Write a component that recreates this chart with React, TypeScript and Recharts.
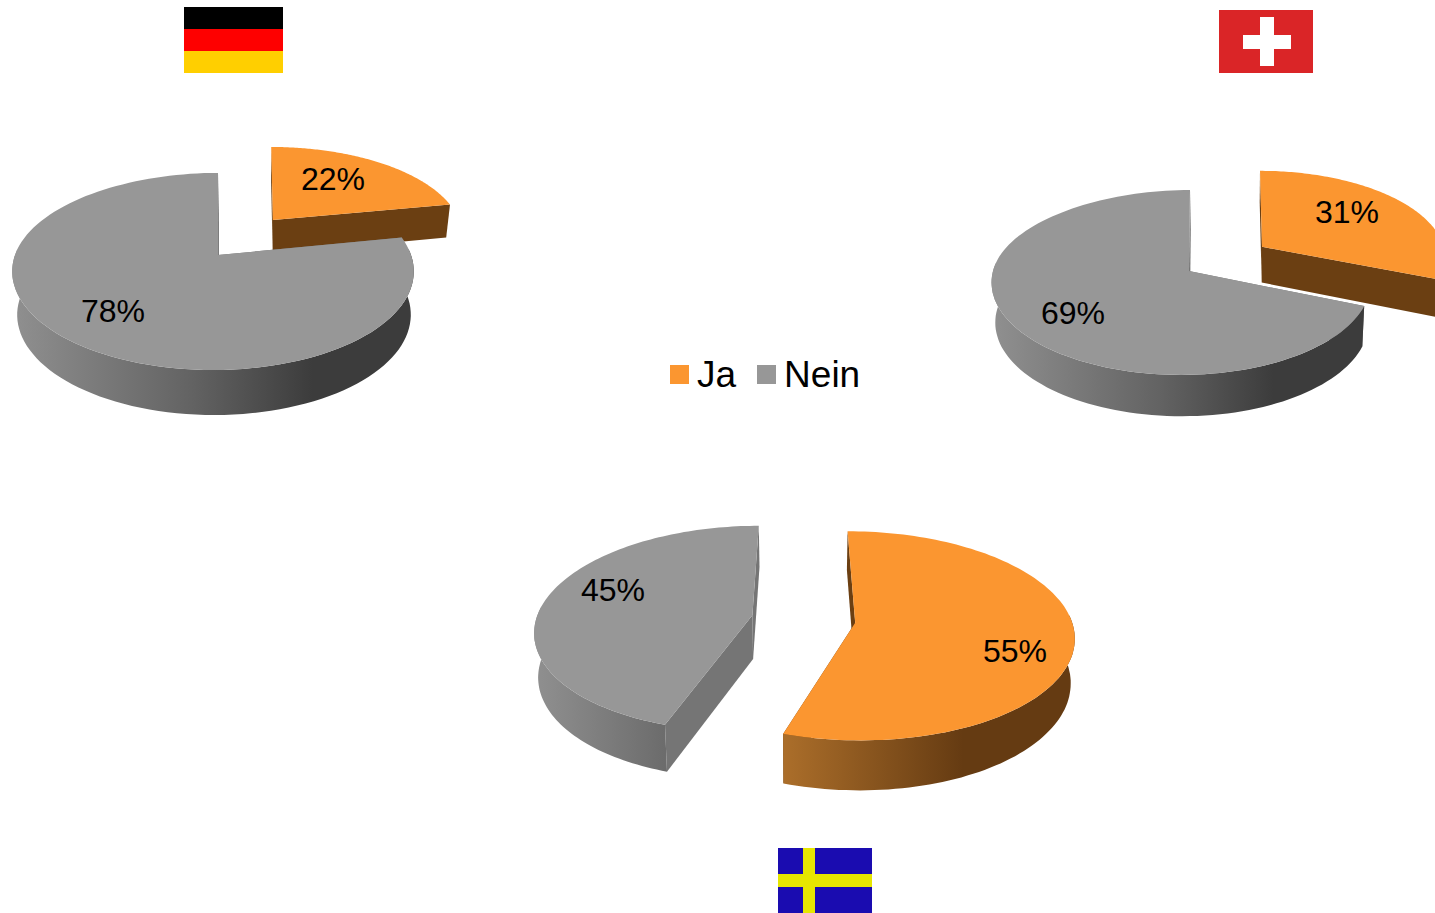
// App.tsx
//
// Three exploded "3D" pies (Ja / Nein) with flags. Recharts only does flat
// circles, so each sector goes through a custom shape that projects the
// library's angles onto a tilted plane with a bit of perspective.

import { PieChart, Pie, Legend } from "recharts";

const ANSWERS = ["Ja", "Nein"];
const GERMANY = [22, 78];
const SWITZERLAND = [31, 69];
const SWEDEN = [55, 45];

const toRows = (values: number[]) =>
  values.map((value, i) => ({ name: ANSWERS[i], value }));

const TOP_COLOR: Record<string, string> = { Ja: "#fb9630", Nein: "#979797" };
const CUT_COLOR: Record<string, string> = { Ja: "#6b3f12", Nein: "#757575" };
const WALL_STOPS: Record<string, [number, string][]> = {
  Ja: [[0, "#ab6e2a"], [0.62, "#653b12"], [1, "#653b12"]],
  Nein: [[0, "#8f8f8f"], [0.45, "#626262"], [0.75, "#3c3c3c"], [1, "#3c3c3c"]],
};

const FONT = "'Liberation Sans', Arial, sans-serif";

interface Geo {
  id: string;
  cx: number;
  cy: number;
  rx: number;
  ry: number;
  k: number; // perspective strength
  vp: number; // x the far side converges to
  skew: number; // extra x push towards the far side only
  u: number; // explode offset, in radii
  v: number;
  apexDx: number;
  depth: number;
  depthPow: number;
  wallVp: number;
  wallScale: number;
  wallFrom: number;
  wallTo: number;
  labelX: number;
  labelY: number;
}

const base = { k: 0.167, ry: 95.8, rx: 198, cy: 255, wallVp: 262, wallScale: 0.98, wallFrom: 16, wallTo: 412 };
const GERMANY_GEO: Record<string, Geo> = {
  Ja: { ...base, id: "de-ja", cx: 213, vp: 260, skew: 0, u: 0.307, v: 0.389, apexDx: 0, depth: 36, depthPow: 1, labelX: 333, labelY: 179 },
  Nein: { ...base, id: "de-nein", cx: 213, vp: 213, skew: 5, u: 0, v: 0, apexDx: 5, depth: 43, depthPow: 0.25, labelX: 113, labelY: 311 },
};

const baseCh = { k: 0.124, ry: 91, cy: 271, wallVp: 1240, wallScale: 0.985, wallFrom: 996, wallTo: 1366 };
const SWISS_GEO: Record<string, Geo> = {
  Ja: { ...baseCh, id: "ch-ja", rx: 188, cx: 1182, vp: 1243, skew: 0, u: 0.429, v: 0.275, apexDx: 0, depth: 37, depthPow: 1, labelX: 1347, labelY: 212 },
  Nein: { ...baseCh, id: "ch-nein", rx: 188, cx: 1181, vp: 1181, skew: 9, u: 0, v: 0, apexDx: 8, depth: 40, depthPow: 0.25, labelX: 1073, labelY: 313 },
};

const baseSe = { ry: 102, cy: 619, wallVp: 803, wallScale: 0.985, skew: 0 };
const SWEDEN_GEO: Record<string, Geo> = {
  Ja: { ...baseSe, id: "se-ja", k: 0.125, rx: 218, cx: 805, vp: 803, u: 0.22, v: -0.036, apexDx: 2, depth: 43.5, depthPow: 1, wallFrom: 784, wallTo: 1073, labelX: 1015, labelY: 651 },
  Nein: { ...baseSe, id: "se-nein", k: 0.13, rx: 214, cx: 750, vp: 824, u: 0, v: 0.037, apexDx: 2, depth: 44, depthPow: 0.5, wallFrom: 538, wallTo: 900, labelX: 613, labelY: 590 },
};

function project(g: Geo, u: number, v: number, low: boolean): [number, number] {
  const vv = v + g.v;
  const s = 1 / (1 + g.k * vv);
  let x = g.vp + (g.cx - g.vp + g.rx * (u + g.u)) * s + g.skew * Math.max(0, vv) ** 2;
  let y = g.cy - g.ry * vv * s;
  if (low) {
    y += g.depth * Math.pow(s, g.depthPow);
    x = g.wallVp + (x - g.wallVp) * g.wallScale;
  }
  return [x, y];
}

const pathOf = (pts: [number, number][]) =>
  "M" + pts.map((p) => `${p[0].toFixed(1)},${p[1].toFixed(1)}`).join("L") + "Z";

function Slice3D(props: any & { geos: Record<string, Geo> }) {
  const name: string = props.payload?.name ?? props.name;
  const g: Geo = props.geos[name];
  // recharts angles: degrees counter-clockwise from 3 o'clock
  const a0 = (props.startAngle * Math.PI) / 180;
  const a1 = (props.endAngle * Math.PI) / 180;
  const steps = 120;
  const angles: number[] = [];
  for (let i = 0; i <= steps; i++) angles.push(a0 + ((a1 - a0) * i) / steps);
  const arc = (as: number[], low: boolean) =>
    as.map((a) => project(g, Math.cos(a), Math.sin(a), low));
  const apex = (low: boolean): [number, number] => {
    const p = project(g, 0, 0, low);
    return [p[0] + g.apexDx, p[1]];
  };
  const topArc = arc(angles, false);
  // only the part of the rim that faces the viewer gets a wall
  const front = angles.filter((a) => Math.sin(a) < 0.1);
  const gradId = `wall-${g.id}`;
  return (
    <g>
      <defs>
        <linearGradient id={gradId} gradientUnits="userSpaceOnUse" x1={g.wallFrom} x2={g.wallTo} y1={0} y2={0}>
          {WALL_STOPS[name].map(([o, c]) => (
            <stop key={o} offset={o} stopColor={c} />
          ))}
        </linearGradient>
      </defs>
      <path d={pathOf([apex(false), topArc[0], project(g, Math.cos(a0), Math.sin(a0), true), apex(true)])} fill={CUT_COLOR[name]} />
      <path d={pathOf([apex(false), topArc[steps], project(g, Math.cos(a1), Math.sin(a1), true), apex(true)])} fill={CUT_COLOR[name]} />
      {front.length > 1 && (
        <path d={pathOf([...arc(front, false), ...arc(front, true).reverse()])} fill={`url(#${gradId})`} />
      )}
      <path d={pathOf([apex(false), ...topArc])} fill={TOP_COLOR[name]} />
      <text
        x={g.labelX}
        y={g.labelY}
        textAnchor="middle"
        dominantBaseline="central"
        fontFamily={FONT}
        fontSize={32}
        fill="#000"
      >
        {props.payload?.value ?? props.value}%
      </text>
    </g>
  );
}

function LegendRow(props: any) {
  const seen = new Set<string>();
  const items = (props.payload ?? []).filter((it: any) => {
    if (seen.has(it.value)) return false;
    seen.add(it.value);
    return true;
  });
  return (
    <div style={{ display: "flex", alignItems: "center", fontFamily: FONT, fontSize: 37, lineHeight: "40px", color: "#000" }}>
      {items.map((it: any) => (
        <div key={it.value} style={{ display: "flex", alignItems: "center", marginRight: 21 }}>
          <span style={{ width: 19, height: 19, background: TOP_COLOR[it.value], marginRight: 8 }} />
          <span style={{ position: "relative", top: 1 }}>{it.value}</span>
        </div>
      ))}
    </div>
  );
}

function Flags() {
  return (
    <svg width={1435} height={913} style={{ position: "absolute", left: 0, top: 0, pointerEvents: "none" }}>
      <rect x={184} y={7} width={99} height={22} fill="#000" />
      <rect x={184} y={29} width={99} height={22} fill="#fe0000" />
      <rect x={184} y={51} width={99} height={22} fill="#ffcf00" />

      <rect x={1219} y={10} width={94} height={63} fill="#da2527" />
      <rect x={1260} y={17} width={14} height={49} fill="#fff" />
      <rect x={1243} y={35} width={48} height={14} fill="#fff" />

      <rect x={778} y={848} width={94} height={65} fill="#1a0cb0" />
      <rect x={803} y={848} width={12} height={65} fill="#e6e600" />
      <rect x={778} y={874} width={94} height={13} fill="#e6e600" />
    </svg>
  );
}

const PIES: { key: string; values: number[]; geos: Record<string, Geo> }[] = [
  { key: "de", values: GERMANY, geos: GERMANY_GEO },
  { key: "ch", values: SWITZERLAND, geos: SWISS_GEO },
  { key: "se", values: SWEDEN, geos: SWEDEN_GEO },
];

export default function App() {
  return (
    <div style={{ position: "absolute", left: 0, top: 0, width: 1435, height: 913, overflow: "hidden", background: "#fff" }}>
      <PieChart width={1435} height={913} margin={{ top: 0, right: 0, bottom: 0, left: 0 }}>
        {PIES.map((p) => (
          <Pie
            key={p.key}
            data={toRows(p.values)}
            dataKey="value"
            nameKey="name"
            cx={p.geos.Nein.cx}
            cy={p.geos.Nein.cy}
            outerRadius={p.geos.Nein.rx}
            startAngle={90}
            endAngle={-270}
            stroke="none"
            isAnimationActive={false}
            shape={(s: any) => <Slice3D {...s} geos={p.geos} />}
          />
        ))}
        <Legend
          content={<LegendRow />}
          wrapperStyle={{ position: "absolute", left: 670, top: 354, width: 260, bottom: "auto" }}
        />
      </PieChart>
      <Flags />
    </div>
  );
}
